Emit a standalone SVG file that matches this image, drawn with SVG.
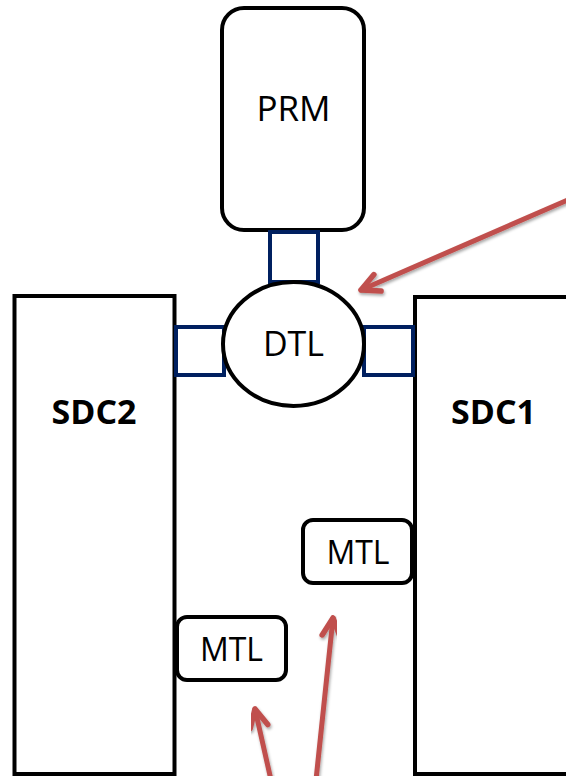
<svg xmlns="http://www.w3.org/2000/svg" width="566" height="776" viewBox="0 0 566 776">
  <style>
    .box { fill: #ffffff; stroke: #000000; stroke-width: 4; }
    .port { fill: #ffffff; stroke: #002060; stroke-width: 4; }
    .lbl { font-family: "Open Sans", "Liberation Sans", sans-serif; fill: #000000; text-anchor: middle; }
    .bold { font-weight: bold; }
    .arrow { fill: none; stroke: #C0504D; stroke-width: 5; stroke-linecap: round; filter: url(#sh); }
  </style>
  <defs>
    <filter id="sh" x="-20%" y="-20%" width="140%" height="140%">
      <feDropShadow dx="1" dy="2" stdDeviation="1.5" flood-color="#000000" flood-opacity="0.35"/>
    </filter>
    <marker id="ah" viewBox="-24 -14 30 28" refX="0" refY="0" markerWidth="30" markerHeight="28" markerUnits="userSpaceOnUse" orient="auto">
      <path d="M-18,-9 L0,0 L-18,9" fill="none" stroke="#C0504D" stroke-width="5.5" stroke-linecap="round" stroke-linejoin="round"/>
    </marker>
  </defs>
  <rect width="566" height="776" fill="#ffffff"/>

  <g id="SDC2">
    <rect class="box" x="14.5" y="296" width="160" height="478"/>
    <text class="lbl bold" x="94" y="424" font-size="34">SDC2</text>
  </g>
  <g id="SDC1">
    <rect class="box" x="415" y="297" width="170" height="477"/>
    <text class="lbl bold" x="493.5" y="424" font-size="34">SDC1</text>
  </g>
  <g id="PRM">
    <rect class="box" x="222" y="8" width="142" height="222" rx="22"/>
    <text class="lbl" x="293.5" y="121" font-size="35">PRM</text>
  </g>
  <g id="port-top">
    <rect class="port" x="270" y="232" width="48" height="50"/>
  </g>
  <g id="port-left">
    <rect class="port" x="176" y="327" width="48" height="48"/>
  </g>
  <g id="port-right">
    <rect class="port" x="364" y="327" width="49" height="48"/>
  </g>
  <g id="DTL">
    <ellipse class="box" cx="293.5" cy="344" rx="70.5" ry="62"/>
    <text class="lbl" x="293.5" y="356" font-size="34">DTL</text>
  </g>
  <g id="MTL1">
    <rect class="box" x="303" y="520" width="109" height="63" rx="10"/>
    <text class="lbl" x="358" y="564" font-size="32">MTL</text>
  </g>
  <g id="MTL2">
    <rect class="box" x="177" y="617" width="109" height="63" rx="10"/>
    <text class="lbl" x="231.5" y="661" font-size="32">MTL</text>
  </g>

  <g id="connectors">
    <line class="arrow" x1="570" y1="199" x2="361" y2="290" marker-end="url(#ah)"/>
    <line class="arrow" x1="271" y1="780" x2="255" y2="709" marker-end="url(#ah)"/>
    <line class="arrow" x1="316" y1="780" x2="333" y2="618" marker-end="url(#ah)"/>
  </g>
</svg>
